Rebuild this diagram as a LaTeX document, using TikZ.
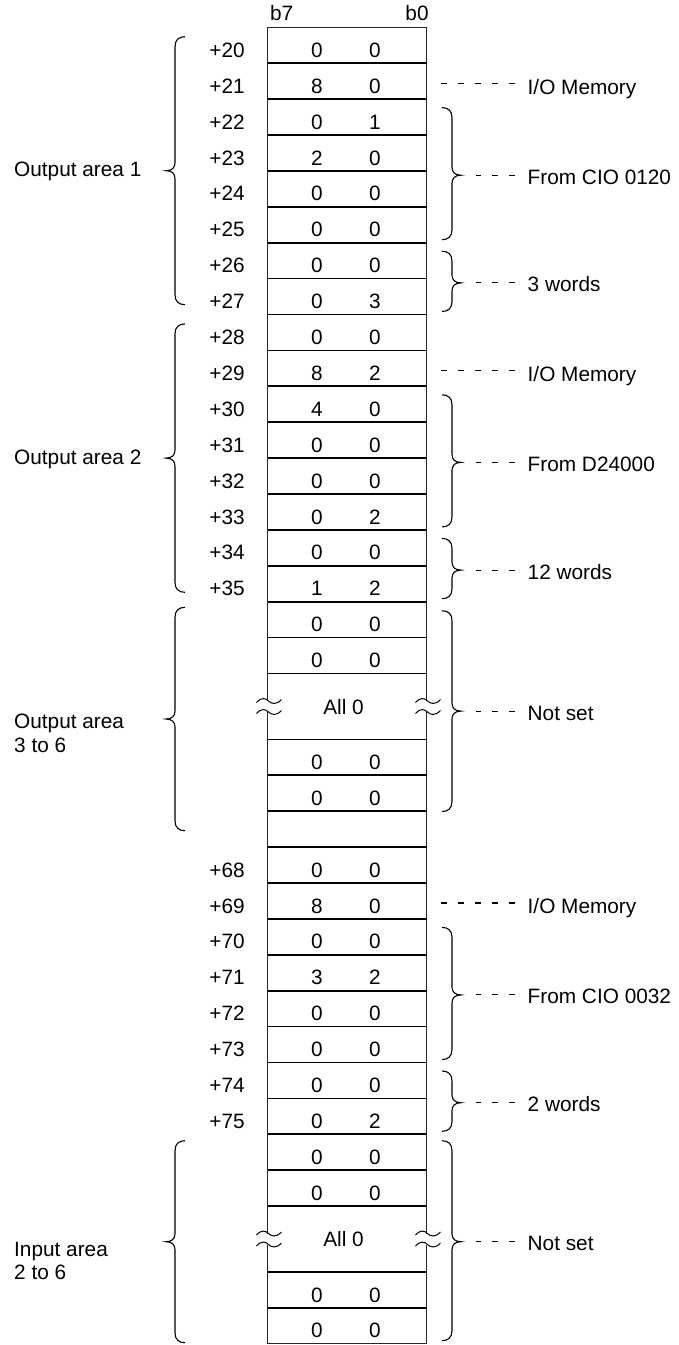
\documentclass[tikz,border=0pt]{standalone}
\usepackage{fontspec}
\setmainfont{Liberation Sans}
\newcommand{\Curly}[6]{%
  \draw[bracel] (#1,#2) .. controls ({#1+6*(#5)},#2) and ({#1+10*(#5)},{#2+3}) .. ({#1+10*(#5)},{#2+10})
   -- ({#1+10*(#5)},{#3-8}) .. controls ({#1+10*(#5)},{#3-3}) and ({#1+13*(#5)},#3) .. ({#1+19*(#5)},#3)
   .. controls ({#1+13*(#5)},#3) and ({#1+10*(#5)},{#3+3}) .. ({#1+10*(#5)},{#3+8})
   -- ({#1+10*(#5)},{#4-10}) .. controls ({#1+10*(#5)},{#4-3}) and ({#1+6*(#5)},#4) .. (#1,#4);
  \coordinate (#6) at ({#1+19*(#5)},#3);
}
\newcommand{\Wave}[2]{%
  \draw[wavel] ({#1-11},{#2+1.5}) .. controls ({#1-6},{#2-4}) and ({#1-2},{#2-3}) .. ({#1+1},#2)
    .. controls ({#1+4},{#2+3}) and ({#1+9},{#2+4}) .. ({#1+14},{#2-1.5});
}
\begin{document}
\begin{tikzpicture}[x=1pt,y=-1pt,font=\fontsize{20.8}{24.4}\selectfont,
  sepl/.style={line width=1.7pt},
  framel/.style={line width=1.2pt,black!85},
  bracel/.style={line width=1.1pt},
  wavel/.style={line width=1pt},
  dashl/.style={line width=1.1pt,dash pattern=on 6pt off 11pt},
  dig/.style={anchor=base,inner sep=0pt},
  lab/.style={anchor=base west,inner sep=0pt}]
\useasboundingbox (0,0) rectangle (679,1345);

% header
\node[dig] (b7) at (281.7,20.7) {b7};
\node[dig] (b0) at (417,20.7) {b0};

% frame
\draw[framel] (267.5,27.3) -- (426.5,27.3);
\draw[framel] (267.5,1343.8) -- (426.5,1343.8);
\foreach \x in {267.5,426.5}{
  \draw[framel] (\x,27.3) -- (\x,701);
  \draw[framel] (\x,712) -- (\x,1233.5);
  \draw[framel] (\x,1244.5) -- (\x,1343.8);
  \Wave{\x}{701}
  \Wave{\x}{712}
  \Wave{\x}{1233.5}
  \Wave{\x}{1244.5}
}
% separators
\foreach \y in {63.2,99.1,135.0,170.9,206.8,242.7,278.6,314.5,350.4,386.3,422.2,458.1,494.0,529.9,565.8,601.7,637.6,673.5,739.4,775.3,811.2,847.1,883.0,918.9,954.8,990.7,1026.6,1062.5,1098.4,1134.3,1170.2,1206.1,1272.0,1307.9}
  \draw[sepl] (267.5,\y) -- (426.5,\y);

% rows
\foreach \t/\rl/\a/\b [count=\i] in {
27.3/+20/0/0, 63.2/+21/8/0, 99.1/+22/0/1, 135.0/+23/2/0, 170.9/+24/0/0, 206.8/+25/0/0,
242.7/+26/0/0, 278.6/+27/0/3, 314.5/+28/0/0, 350.4/+29/8/2, 386.3/+30/4/0, 422.2/+31/0/0,
458.1/+32/0/0, 494.0/+33/0/2, 529.9/+34/0/0, 565.8/+35/1/2, 601.7//0/0, 637.6//0/0,
739.4//0/0, 775.3//0/0, 847.1/+68/0/0, 883.0/+69/8/0, 918.9/+70/0/0, 954.8/+71/3/2,
990.7/+72/0/0, 1026.6/+73/0/0, 1062.5/+74/0/0, 1098.4/+75/0/2, 1134.3//0/0, 1170.2//0/0,
1272.0//0/0, 1307.9//0/0}{
  \node[dig] (rl\i) at (227,{\t+30}) {\rl};
  \node[dig] (da\i) at (317,{\t+30}) {\a};
  \node[dig] (db\i) at (375,{\t+30}) {\b};
}
\node[dig] (all1) at (343.5,714) {All 0};
\node[dig] (all2) at (343.5,1246.5) {All 0};

% left braces and labels
\Curly{185}{36.7}{170.7}{304.7}{-1}{tl1}
\Curly{185}{323.9}{458.1}{592.3}{-1}{tl2}
\Curly{185}{607.3}{719}{830.7}{-1}{tl3}
\Curly{185}{1140.7}{1241.7}{1342.7}{-1}{tl4}
\node[lab] (oa1) at (14,176.5) {Output area 1};
\node[lab] (oa2) at (14,464) {Output area 2};
\node[lab] (oa3) at (14,728.3) {Output area};
\node[lab] (oa3b) at (14,752.7) {3 to 6};
\node[lab] (ia) at (14,1256) {Input area};
\node[lab] (iab) at (14,1279.5) {2 to 6};

% I/O Memory labels
\coordinate (io1) at (426.5,83.2);
\coordinate (io2) at (426.5,370.4);
\coordinate (io3) at (426.5,903);
\node[lab] (m1) at (527.5,94) {I/O Memory};
\node[lab] (m2) at (527.5,381) {I/O Memory};
\node[lab] (m3) at (527.5,913.7) {I/O Memory};
\foreach \c/\m in {io1/m1,io2/m2,io3/m3}
  \draw[dashl,shorten <=13pt,shorten >=10.5pt] (\c -| \m.west) -- (\c);

% right braces and labels
\Curly{442}{107.6}{175.2}{239.7}{1}{tr1}
\Curly{442}{251.2}{282.9}{311.5}{1}{tr2}
\Curly{442}{394.8}{462.4}{526.9}{1}{tr3}
\Curly{442}{538.4}{570.1}{598.7}{1}{tr4}
\Curly{442}{610.7}{711.1}{811.5}{1}{tr5}
\Curly{442}{927.4}{994.9}{1059.5}{1}{tr6}
\Curly{442}{1071}{1102.7}{1131.3}{1}{tr7}
\Curly{442}{1140.7}{1241.7}{1340.7}{1}{tr8}
\node[lab] (n1) at (527.5,184.2) {From CIO 0120};
\node[lab] (n2) at (527.5,291.9) {3 words};
\node[lab] (n3) at (527.5,471.4) {From D24000};
\node[lab] (n4) at (527.5,579.1) {12 words};
\node[lab] (n5) at (527.5,720.1) {Not set};
\node[lab] (n6) at (527.5,1003.9) {From CIO 0032};
\node[lab] (n7) at (527.5,1111.7) {2 words};
\node[lab] (n8) at (527.5,1250.7) {Not set};
\foreach \i in {1,...,8}
  \draw[dashl,shorten <=13pt,shorten >=15pt] (tr\i -| n\i.west) -- (tr\i);
\end{tikzpicture}
\end{document}
